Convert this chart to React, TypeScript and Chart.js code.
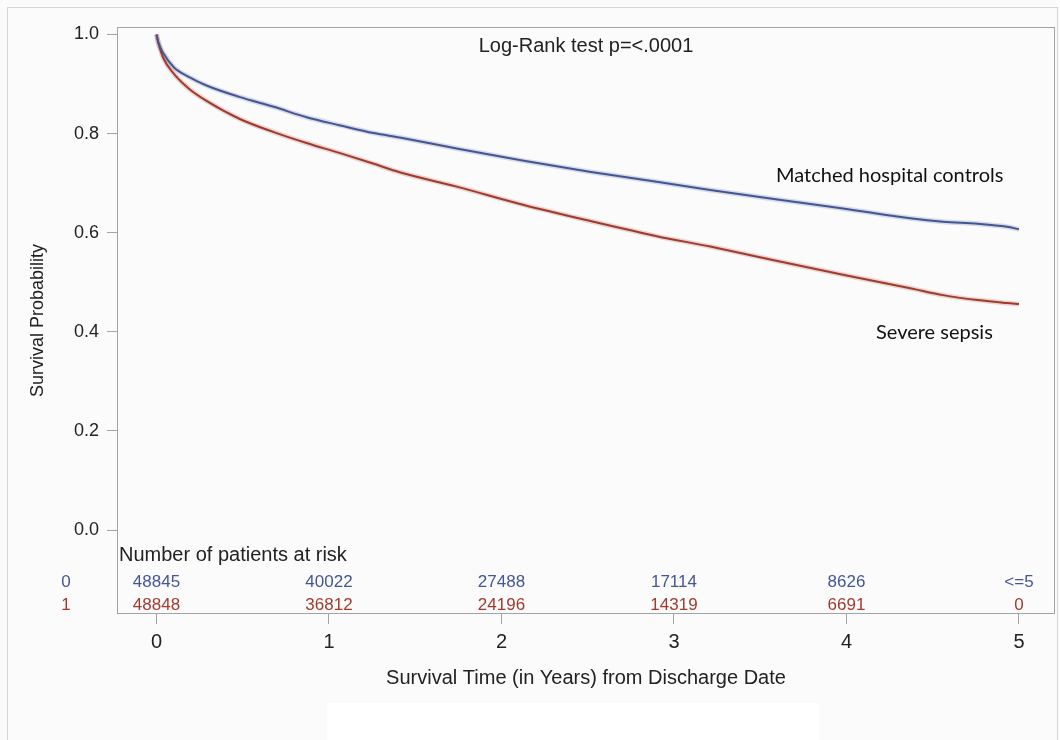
import React, { useEffect, useRef } from 'react';
import { Chart, registerables } from 'chart.js';

Chart.register(...registerables);

// ---- data ----
const times = [0, 0.01, 0.04, 0.1, 0.19, 0.29, 0.48, 0.68, 0.87, 1.06, 1.26, 1.41, 1.74, 2.13, 2.51, 2.9, 3.21, 3.6, 3.98, 4.37, 4.56, 4.76, 4.93, 5.0];
const controlsSurvival = [1.0, 0.985, 0.962, 0.934, 0.914, 0.897, 0.874, 0.854, 0.833, 0.817, 0.801, 0.792, 0.77, 0.745, 0.723, 0.703, 0.686, 0.667, 0.649, 0.629, 0.622, 0.618, 0.612, 0.607];
const sepsisSurvival = [1.0, 0.984, 0.952, 0.921, 0.89, 0.866, 0.83, 0.803, 0.781, 0.761, 0.739, 0.722, 0.693, 0.656, 0.624, 0.593, 0.572, 0.543, 0.515, 0.488, 0.474, 0.464, 0.458, 0.456];

const riskTimes = [0, 1, 2, 3, 4, 5];
const riskControls = ['48845', '40022', '27488', '17114', '8626', '<=5'];
const riskSepsis = ['48848', '36812', '24196', '14319', '6691', '0'];
const groupCodes = ['0', '1'];
const seriesNames = ['Matched hospital controls', 'Severe sepsis'];

const xTicks = [0, 1, 2, 3, 4, 5];
const yTicks = [0, 0.2, 0.4, 0.6, 0.8, 1.0];

const xTitle = 'Survival Time (in Years) from Discharge Date';
const yTitle = 'Survival Probability';
const testLabel = 'Log-Rank test p=<.0001';
const riskHeader = 'Number of patients at risk';

const BLUE = '#445694';
const RED = '#A23A2E';
const SANS = '"Liberation Sans", Arial, sans-serif';
const CAL = 'Lato, "Open Sans", sans-serif';

const decor = {
  id: 'decor',
  beforeDraw(chart: any) {
    const { ctx, width, height } = chart;
    ctx.save();
    ctx.fillStyle = '#fbfbfb';
    ctx.fillRect(0, 0, width, height);
    ctx.fillStyle = '#ffffff';
    ctx.fillRect(327, 703, 492, 37);
    ctx.strokeStyle = '#d6d6d6';
    ctx.lineWidth = 1;
    ctx.strokeRect(7.5, 7.5, 1050, 760);
    ctx.restore();
  },
  afterDraw(chart: any) {
    const { ctx, chartArea: a, scales } = chart;
    const xs = scales.x;
    ctx.save();
    ctx.strokeStyle = '#a3a3a3';
    ctx.lineWidth = 1;
    ctx.strokeRect(Math.round(a.left) + 0.5, Math.round(a.top) + 0.5, Math.round(a.right - a.left) - 1, Math.round(a.bottom - a.top) - 1);

    ctx.fillStyle = '#222';
    ctx.textBaseline = 'middle';
    ctx.font = `20px ${SANS}`;
    ctx.textAlign = 'center';
    ctx.fillText(testLabel, (a.left + a.right) / 2, 46);
    ctx.textAlign = 'left';
    ctx.fillText(riskHeader, 119, 555);

    ctx.font = `17px ${SANS}`;
    const rows = [riskControls, riskSepsis];
    const cols = [BLUE, RED];
    const ys = [582, 605];
    rows.forEach((row, r) => {
      ctx.fillStyle = cols[r];
      ctx.textAlign = 'center';
      row.forEach((txt, i) => {
        ctx.fillText(txt, xs.getPixelForValue(riskTimes[i]), ys[r]);
      });
      ctx.fillText(groupCodes[r], 66, ys[r]);
    });

    ctx.fillStyle = '#111';
    ctx.font = `20px ${CAL}`;
    ctx.textAlign = 'left';
    ctx.fillText(seriesNames[0], 776, 176);
    ctx.fillText(seriesNames[1], 876, 333);
    ctx.restore();
  },
};

export default function App() {
  const ref = useRef<HTMLCanvasElement | null>(null);
  useEffect(() => {
    if (!ref.current) return;
    const pts0 = times.map((t, i) => ({ x: t, y: controlsSurvival[i] }));
    const pts1 = times.map((t, i) => ({ x: t, y: sepsisSurvival[i] }));
    const base = { pointRadius: 0, cubicInterpolationMode: 'monotone' as const, fill: false };
    const chart = new Chart(ref.current, {
      type: 'line',
      data: {
        datasets: [
          { ...base, label: 'band0', data: pts0, borderColor: 'rgba(68,86,148,0.2)', borderWidth: 5 },
          { ...base, label: 'band1', data: pts1, borderColor: 'rgba(162,58,46,0.2)', borderWidth: 5 },
          { ...base, label: seriesNames[0], data: pts0, borderColor: BLUE, borderWidth: 2 },
          { ...base, label: seriesNames[1], data: pts1, borderColor: RED, borderWidth: 2 },
        ],
      },
      options: {
        responsive: false,
        animation: false,
        devicePixelRatio: 1,
        layout: { padding: { left: 0, top: 27, right: 5, bottom: 0 } },
        plugins: { legend: { display: false }, tooltip: { enabled: false }, title: { display: false } },
        scales: {
          x: {
            type: 'linear',
            min: -0.229,
            max: 5.209,
            afterBuildTicks: (s: any) => { s.ticks = xTicks.map((v) => ({ value: v })); },
            afterFit: (s: any) => { s.height = 126; },
            grid: { drawOnChartArea: false, drawTicks: true, tickLength: 10, color: '#a3a3a3' },
            border: { display: false },
            ticks: { font: { family: SANS, size: 20 }, color: '#222', padding: 6, maxRotation: 0, autoSkip: false, callback: (v: any) => String(v) },
            title: { display: true, text: xTitle, font: { family: SANS, size: 20 }, color: '#222', padding: { top: 0, bottom: 50 } },
          },
          y: {
            type: 'linear',
            min: -0.1695,
            max: 1.0151,
            afterBuildTicks: (s: any) => { s.ticks = yTicks.map((v) => ({ value: v })); },
            afterFit: (s: any) => { s.width = 117; },
            grid: { drawOnChartArea: false, drawTicks: true, tickLength: 10, color: '#a3a3a3' },
            border: { display: false },
            ticks: { font: { family: SANS, size: 18 }, color: '#222', padding: 8, autoSkip: false, callback: (v: any) => Number(v).toFixed(1) },
            title: { display: true, text: yTitle, font: { family: SANS, size: 18 }, color: '#222', padding: { top: 27, bottom: 0 } },
          },
        },
      },
      plugins: [decor],
    });
    return () => chart.destroy();
  }, []);
  return (
    <div style={{ position: 'fixed', left: 0, top: 0, width: 1060, height: 740 }}>
      <canvas ref={ref} width={1060} height={740} style={{ width: 1060, height: 740, display: 'block' }} />
    </div>
  );
}
